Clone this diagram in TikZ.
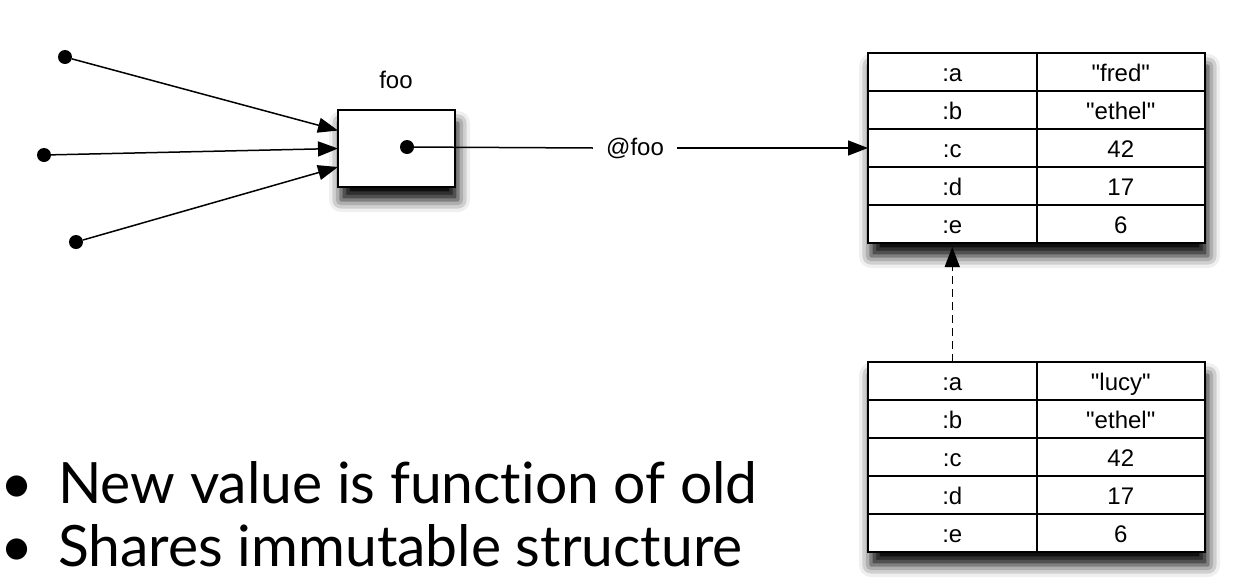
\documentclass[tikz,border=0pt]{standalone}
\usepackage{fontspec}
\setmainfont{Liberation Sans}
\newfontfamily\slidefont{Lato}[Ligatures=NoCommon]
\usetikzlibrary{arrows.meta,positioning,shadows.blur}
\newcommand{\qq}[1]{\textquotedbl#1\textquotedbl}

\begin{document}
\begin{tikzpicture}[
  x=1pt, y=-1pt,
  >=Stealth,
  every node/.style={font=\fontsize{24}{28}\selectfont},
  frame/.style={
    draw,
    line width=2pt,
    fill=white,
    inner sep=0pt,
    outer sep=0pt,
    blur shadow={shadow xshift=3pt, shadow yshift=-13pt, shadow blur radius=12pt, shadow opacity=100}
  },
  cell/.style={draw, line width=2pt, inner sep=0pt, outer sep=0pt, minimum height=38pt, minimum width=168.5pt, text height=19pt, text depth=0pt},
  pin/.style={circle, fill=black, inner sep=0pt, minimum size=14pt},
  link/.style={-{Triangle[length=20pt,width=15pt]}, line width=1.5pt},
  point/.style={anchor=base west, inner sep=0pt, font=\slidefont\fontsize{57}{70}\selectfont}
]
  \useasboundingbox (0,0) rectangle (1256,579);

  \node[frame, minimum width=117pt, minimum height=77pt] (foo) at (396.5,148.5) {};
  \node[anchor=base] (foolabel) at (396,88) {foo};
  \node[pin] (ref) at (407,147) {};

  \node[pin] (caller1) at (65,57) {};
  \node[pin] (caller2) at (44,155) {};
  \node[pin] (caller3) at (76,242) {};
  \draw[link] (caller1) -- ([yshift=18pt]foo.west);
  \draw[link] (caller2) -- (foo.west);
  \draw[link] (caller3) -- ([yshift=-18.5pt]foo.west);

  \node[frame, anchor=north west, minimum width=337pt, minimum height=190pt] (oldmap) at (868,53) {};
  \foreach \k/\v [count=\i] in {a/\qq{fred}, b/\qq{ethel}, c/42, d/17, e/6} {
    \node[cell, anchor=north west] (oldkey-\k) at (868,{53+38*(\i-1)}) {:\k};
    \node[cell, right=0pt of oldkey-\k] (oldval-\k) {\v};
  }

  \node[frame, anchor=north west, minimum width=337pt, minimum height=190pt] (newmap) at (868,362) {};
  \foreach \k/\v [count=\i] in {a/\qq{lucy}, b/\qq{ethel}, c/42, d/17, e/6} {
    \node[cell, anchor=north west] (newkey-\k) at (868,{362+38*(\i-1)}) {:\k};
    \node[cell, right=0pt of newkey-\k] (newval-\k) {\v};
  }

  \node[inner xsep=13pt] (ivar) at (635,148) {@foo};
  \draw[line width=1.5pt] (ref.center) -- (ivar.west);
  \draw[link] (ivar.east) -- (oldkey-c.west);
  \draw[link, dash pattern=on 8pt off 5pt, shorten >=4pt] (newkey-a.north) -- (oldkey-e.south);

  \node[point] (point1) at (0,503) {\makebox[58pt][l]{•}New value is function of old};
  \node[point] (point2) at (0,566) {\makebox[58pt][l]{•}Shares immutable structure};
\end{tikzpicture}
\end{document}
